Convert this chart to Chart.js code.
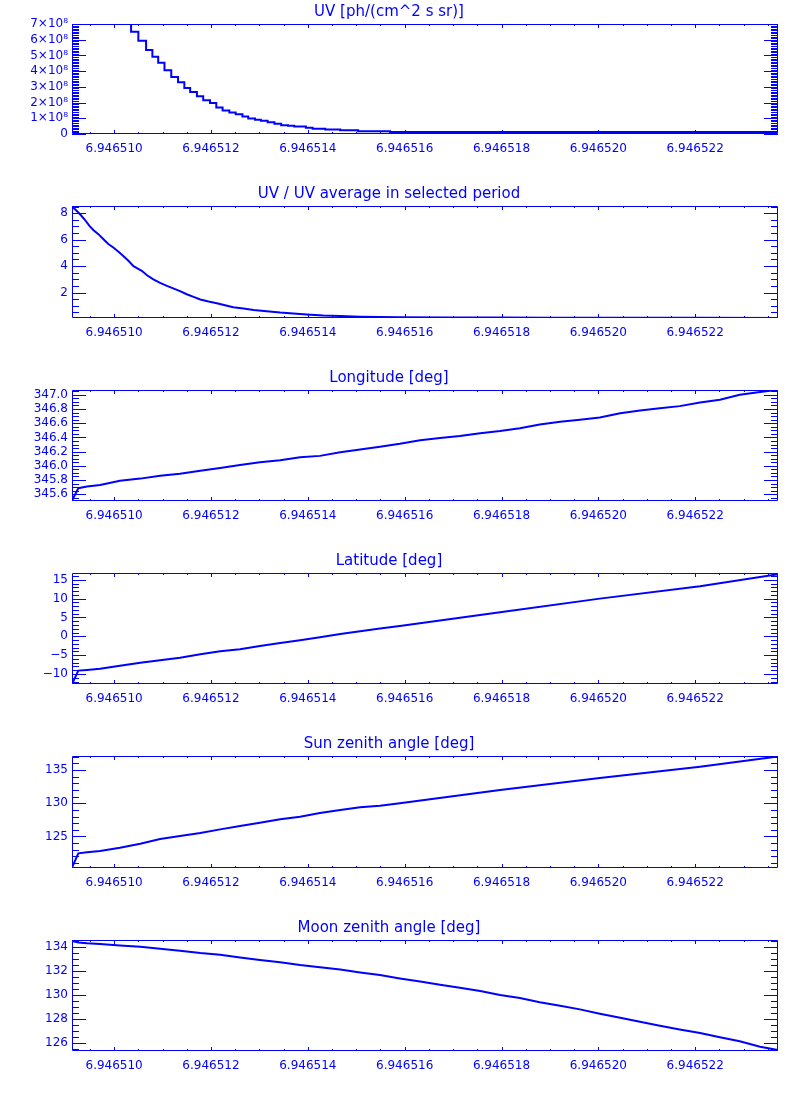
<!DOCTYPE html>
<html>
<head>
<meta charset="utf-8">
<script src="https://cdn.jsdelivr.net/npm/chart.js@4/dist/chart.umd.min.js"></script>
<style>
  html, body { margin: 0; padding: 0; background: #fff; }
  #wrap { position: relative; width: 800px; height: 1100px; }
  .panel { position: absolute; left: 0; }
</style>
</head>
<body>
<div id="wrap"></div>
<script>
const BLUE = 'rgb(0,0,255)';
const FONT = 'DejaVu Sans';

// time axis (shared by every panel)
const xMin = 6.94650913, xMax = 6.94652371;
const xTicks = [6.946510, 6.946512, 6.946514, 6.946516, 6.946518, 6.946520, 6.946522];
const xMinorStep = 0.5e-6;

// panel 1: UV, histogram steps
const uvTime = [6.94650913, 6.94650927, 6.94650940, 6.94650954, 6.94650967, 6.94650980, 6.94650994,
  6.94651008, 6.94651022, 6.94651035, 6.94651050, 6.94651066, 6.94651079, 6.94651091, 6.94651104,
  6.94651118, 6.94651132, 6.94651145, 6.94651157, 6.94651171, 6.94651184, 6.94651198, 6.94651211,
  6.94651224, 6.94651238, 6.94651251, 6.94651265, 6.94651277, 6.94651291, 6.94651303, 6.94651317,
  6.94651331, 6.94651345, 6.94651359, 6.94651372, 6.94651396, 6.94651410, 6.94651436, 6.94651467,
  6.94651504, 6.94651570, 6.94651754, 6.94652371];
const uvFlux = [15.2e8, 14.5e8, 13.5e8, 12.4e8, 11.6e8, 10.7e8, 9.9e8, 9.2e8, 8.5e8, 7.0e8,
  6.51e8, 5.93e8, 5.34e8, 4.91e8, 4.53e8, 4.06e8, 3.63e8, 3.29e8, 2.93e8, 2.67e8, 2.40e8, 2.14e8,
  1.97e8, 1.69e8, 1.50e8, 1.37e8, 1.25e8, 1.12e8, 0.99e8, 0.91e8, 0.84e8, 0.74e8, 0.65e8, 0.56e8,
  0.52e8, 0.48e8, 0.40e8, 0.33e8, 0.29e8, 0.24e8, 0.17e8, 0.12e8, 0.12e8];
const uvTicks = [0, 1e8, 2e8, 3e8, 4e8, 5e8, 6e8, 7e8];
const uvTickLabels = ['0', '1\u00d710\u2078', '2\u00d710\u2078', '3\u00d710\u2078', '4\u00d710\u2078',
  '5\u00d710\u2078', '6\u00d710\u2078', '7\u00d710\u2078'];

// panel 2: UV / average
const ratioTime = [6.94650913, 6.94650923, 6.94650931, 6.94650940, 6.94650949, 6.94650957, 6.94650968,
  6.94650978, 6.94650988, 6.94650999, 6.94651009, 6.94651019, 6.94651030, 6.94651040, 6.94651048,
  6.94651057, 6.94651068, 6.94651081, 6.94651095, 6.94651109, 6.94651122, 6.94651136, 6.94651150,
  6.94651164, 6.94651178, 6.94651195, 6.94651212, 6.94651229, 6.94651246, 6.94651267, 6.94651288,
  6.94651315, 6.94651343, 6.94651370, 6.94651398, 6.94651432, 6.94651467, 6.94651508, 6.94651590,
  6.94651694, 6.94651797, 6.94651900, 6.94652003, 6.94652210, 6.94652371];
const ratioValues = [8.52, 8.17, 7.87, 7.49, 7.04, 6.73, 6.40, 6.03, 5.67, 5.39, 5.08, 4.76, 4.38,
  4.00, 3.82, 3.64, 3.31, 2.99, 2.73, 2.50, 2.31, 2.10, 1.87, 1.67, 1.47, 1.32, 1.19, 1.04, 0.89,
  0.79, 0.68, 0.58, 0.48, 0.41, 0.33, 0.25, 0.22, 0.17, 0.13, 0.11, 0.10, 0.09, 0.08, 0.08, 0.07];

// sample times for the geometry panels
const gridTime = [6.94650913, 6.94650926, 6.94650944, 6.94650971, 6.94651012, 6.94651054, 6.94651095,
  6.94651136, 6.94651178, 6.94651219, 6.94651260, 6.94651301, 6.94651343, 6.94651384, 6.94651425,
  6.94651467, 6.94651508, 6.94651549, 6.94651590, 6.94651632, 6.94651673, 6.94651714, 6.94651756,
  6.94651797, 6.94651838, 6.94651879, 6.94651921, 6.94651962, 6.94652003, 6.94652045, 6.94652086,
  6.94652127, 6.94652168, 6.94652210, 6.94652251, 6.94652292, 6.94652334, 6.94652371];
const coarseTime = [6.94650913, 6.94650926, 6.94650944, 6.94650971, 6.94651012, 6.94651054, 6.94651095,
  6.94651136, 6.94651178, 6.94651219, 6.94651260, 6.94651301, 6.94651343, 6.94651384, 6.94651425,
  6.94651467, 6.94651508, 6.94651549, 6.94651590, 6.94651797, 6.94652003, 6.94652210, 6.94652371];

const longitude = [345.51, 345.685, 345.71, 345.73, 345.79, 345.82, 345.86, 345.89, 345.93, 345.97,
  346.01, 346.05, 346.08, 346.12, 346.14, 346.19, 346.23, 346.27, 346.31, 346.36, 346.39, 346.42,
  346.46, 346.49, 346.53, 346.58, 346.62, 346.65, 346.68, 346.74, 346.78, 346.81, 346.84, 346.89,
  346.93, 347.00, 347.04, 347.07];
const latitude = [-12.7, -9.1, -8.93, -8.6, -7.8, -7.0, -6.38, -5.67, -4.79, -3.99, -3.46, -2.57,
  -1.77, -1.06, -0.27, 0.62, 1.33, 2.04, 2.75, 6.4, 10.0, 13.3, 16.5];
const sunZenith = [120.3, 122.45, 122.6, 122.8, 123.3, 123.9, 124.6, 125.05, 125.5, 126.06, 126.56,
  127.06, 127.58, 127.97, 128.53, 128.98, 129.39, 129.64, 130.0, 132.0, 133.8, 135.5, 137.05];
const moonZenith = [134.48, 134.36, 134.29, 134.22, 134.11, 134.00, 133.83, 133.67, 133.47, 133.33,
  133.11, 132.89, 132.70, 132.47, 132.28, 132.11, 131.86, 131.64, 131.36, 131.11, 130.83, 130.58,
  130.31, 129.97, 129.72, 129.37, 129.08, 128.78, 128.42, 128.08, 127.75, 127.42, 127.11, 126.81,
  126.45, 126.12, 125.67, 125.39];

const panels = [
  { title: 'UV [ph/(cm^2 s sr)]', t: uvTime, v: uvFlux, stepped: 'after',
    yMin: 0, yMax: 7e8, ticks: uvTicks, labels: uvTickLabels, minor: 1e7, top: 24, h: 110 },
  { title: 'UV / UV average in selected period', t: ratioTime, v: ratioValues,
    yMin: 0.07, yMax: 8.55, ticks: [2, 4, 6, 8], minor: 0.5, top: 206, h: 112 },
  { title: 'Longitude [deg]', t: gridTime, v: longitude, yMin: 345.505, yMax: 347.067,
    ticks: [345.6, 345.8, 346.0, 346.2, 346.4, 346.6, 346.8, 347.0], decimals: 1, minor: 0.05, top: 390, h: 111 },
  { title: 'Latitude [deg]', t: coarseTime, v: latitude, yMin: -12.66, yMax: 16.8,
    ticks: [-10, -5, 0, 5, 10, 15], minor: 1, top: 573, h: 111 },
  { title: 'Sun zenith angle [deg]', t: coarseTime, v: sunZenith, yMin: 120.24, yMax: 137.12,
    ticks: [125, 130, 135], minor: 1, top: 756, h: 112 },
  { title: 'Moon zenith angle [deg]', t: gridTime, v: moonZenith, yMin: 125.31, yMax: 134.56,
    ticks: [126, 128, 130, 132, 134], minor: 0.5, top: 940, h: 111 },
];

// IDL style box: frame plus inward ticks on all four sides
const idlAxes = {
  id: 'idlAxes',
  afterDatasetsDraw(chart, args, opts) {
    const { ctx, chartArea: a, scales: { x, y } } = chart;
    ctx.save();
    ctx.strokeStyle = BLUE;
    ctx.lineWidth = 1;
    ctx.beginPath();
    ctx.rect(a.left + 0.5, a.top + 0.5, a.right - a.left - 1, a.bottom - a.top - 1);

    const xt = (v, len) => {
      const px = Math.round(x.getPixelForValue(v)) + 0.5;
      ctx.moveTo(px, a.bottom); ctx.lineTo(px, a.bottom - len);
      ctx.moveTo(px, a.top); ctx.lineTo(px, a.top + len);
    };
    xTicks.forEach(v => xt(v, 4));
    for (let i = -4; i <= (xTicks.length - 1) * 4 + 4; i++) {
      if (i % 4 === 0) continue;
      const v = xTicks[0] + i * xMinorStep;
      if (v > xMin && v < xMax) xt(v, 2);
    }

    const yt = (v, len) => {
      const py = Math.round(y.getPixelForValue(v)) + 0.5;
      ctx.moveTo(a.left, py); ctx.lineTo(a.left + len, py);
      ctx.moveTo(a.right, py); ctx.lineTo(a.right - len, py);
    };
    const base = opts.ticks[0];
    const i0 = Math.ceil((y.min - base) / opts.minor - 1e-6);
    const i1 = Math.floor((y.max - base) / opts.minor + 1e-6);
    for (let i = i0; i <= i1; i++) yt(base + i * opts.minor, 7);
    opts.ticks.forEach(v => yt(v, 14));
    ctx.stroke();
    ctx.restore();
  }
};

const wrap = document.getElementById('wrap');
panels.forEach(p => {
  const H = 24 + p.h + 30;
  const div = document.createElement('div');
  div.className = 'panel';
  div.style.top = (p.top - 24) + 'px';
  const cv = document.createElement('canvas');
  cv.width = 800; cv.height = H;
  cv.style.width = '800px'; cv.style.height = H + 'px';
  div.appendChild(cv);
  wrap.appendChild(div);

  new Chart(cv, {
    type: 'line',
    data: {
      datasets: [{
        data: p.t.map((t, i) => ({ x: t, y: p.v[i] })),
        borderColor: BLUE,
        borderWidth: 2,
        pointRadius: 0,
        tension: 0,
        stepped: p.stepped || false,
        fill: false,
      }]
    },
    options: {
      responsive: false,
      animation: false,
      devicePixelRatio: 1,
      layout: { padding: { left: 0, right: 22, top: 0, bottom: 0 } },
      scales: {
        x: {
          type: 'linear', min: xMin, max: xMax,
          grid: { display: false, drawTicks: false },
          border: { display: false },
          afterBuildTicks: s => { s.ticks = xTicks.map(v => ({ value: v })); },
          afterFit: s => { s.height = 30; },
          ticks: {
            color: BLUE, font: { family: FONT, size: 12 }, padding: 8,
            maxRotation: 0, autoSkip: false,
            callback: v => v.toFixed(6)
          }
        },
        y: {
          type: 'linear', min: p.yMin, max: p.yMax,
          grid: { display: false, drawTicks: false },
          border: { display: false },
          afterBuildTicks: s => { s.ticks = p.ticks.map(v => ({ value: v })); },
          afterFit: s => { s.width = 72; },
          ticks: {
            color: BLUE, font: { family: FONT, size: 12 }, padding: 4, autoSkip: false,
            callback: (v, i) => p.labels ? p.labels[i]
              : (p.decimals ? v.toFixed(p.decimals) : String(v).replace('-', '\u2212'))
          }
        }
      },
      plugins: {
        legend: { display: false },
        tooltip: { enabled: false },
        title: {
          display: true, text: p.title, color: BLUE,
          font: { family: FONT, size: 15, weight: 'normal' },
          padding: { top: 3, bottom: 3 }
        },
        idlAxes: { ticks: p.ticks, minor: p.minor }
      }
    },
    plugins: [idlAxes]
  });
});
</script>
</body>
</html>
